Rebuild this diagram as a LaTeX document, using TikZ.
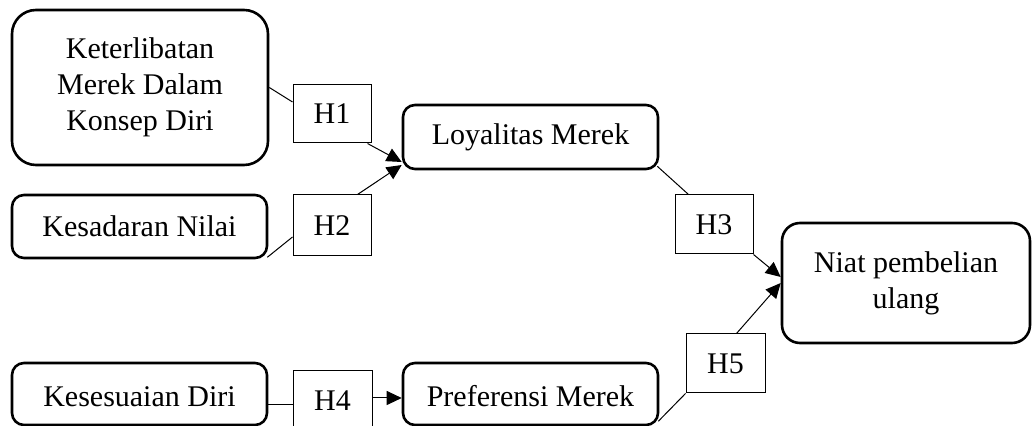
\documentclass[tikz,border=0pt]{standalone}
\usepackage{fontspec}
\setmainfont{Liberation Serif}
\usetikzlibrary{calc,arrows.meta}
\begin{document}
\begin{tikzpicture}[x=0.5pt,y=-0.5pt,
  txt/.style={font=\fontsize{15}{18}\selectfont},
  var/.style={txt, draw, line width=1.3pt, rounded corners=6pt, align=center, inner sep=0pt},
  low/.style={text height=22pt, text depth=9pt},
  hyp/.style={txt, draw, line width=0.5pt, inner sep=0pt},
  conn/.style={line width=0.5pt},
  arr/.style={conn, -{Triangle[length=7.5pt,width=7pt]}}]
\useasboundingbox (0,0) rectangle (1033,426);
\clip (0,0) rectangle (1033,426);
% variables
\node[var, minimum width=128pt, minimum height=77.5pt, rounded corners=12pt] (K) at (140,87.5) {Keterlibatan\\Merek Dalam\\Konsep Diri};
\node[var, minimum width=127.5pt, minimum height=31.5pt] (KN) at (139.5,226.5) {Kesadaran Nilai};
\node[var, low, minimum width=127.5pt, minimum height=31pt] (KD) at (139.5,394) {Kesesuaian Diri};
\node[var, minimum width=127.5pt, minimum height=32pt] (L) at (530.5,137) {Loyalitas Merek};
\node[var, low, minimum width=127.5pt, minimum height=31pt] (P) at (530.5,394) {Preferensi Merek};
\node[var, minimum width=124pt, minimum height=60pt, rounded corners=9pt] (N) at (906,283) {Niat pembelian\\ulang};
% hypotheses
\node[hyp, minimum width=39pt, minimum height=29pt] (H1) at (332,114) {H1};
\node[hyp, minimum width=39pt, minimum height=30.5pt] (H2) at (332,225.5) {H2};
\node[hyp, minimum width=39.5pt, minimum height=30pt] (H4) at (332.5,401) {H4};
\node[hyp, minimum width=39pt, minimum height=29.5pt] (H3) at (714,224.5) {H3};
\node[hyp, minimum width=39.5pt, minimum height=29.5pt] (H5) at (725.5,363.5) {H5};
% connectors
\draw[conn] (K.east) -- ($(H1.west)+(0,-12)$);
\draw[arr] ($(H1.south east)+(-4,0)$) -- ($(L.west)+(0,25)$);
\draw[conn] ($(KN.south east)+(-1,-2)$) -- ($(H2.west)+(0,11.5)$);
\draw[arr] ($(H2.north east)+(-14,0)$) -- ($(L.west)+(0,28)$);
\draw[conn] ($(L.south east)+(-2,-4)$) -- ($(H3.north west)+(14,0)$);
\draw[arr] (H3.south east) -- ($(N.west)+(0,-6)$);
\draw[arr] ($(H5.north)+(11,0)$) -- ($(N.west)+(0,0)$);
\draw[conn] ($(KD.east)+(0,11)$) coordinate (a) -- (a -| H4.west);
\draw[arr] ($(H4.east)+(0,-3)$) coordinate (b) -- (b -| P.west);
\draw[conn] ($(P.south east)+(-1,-5)$) -- (H5.south west);
\end{tikzpicture}
\end{document}
